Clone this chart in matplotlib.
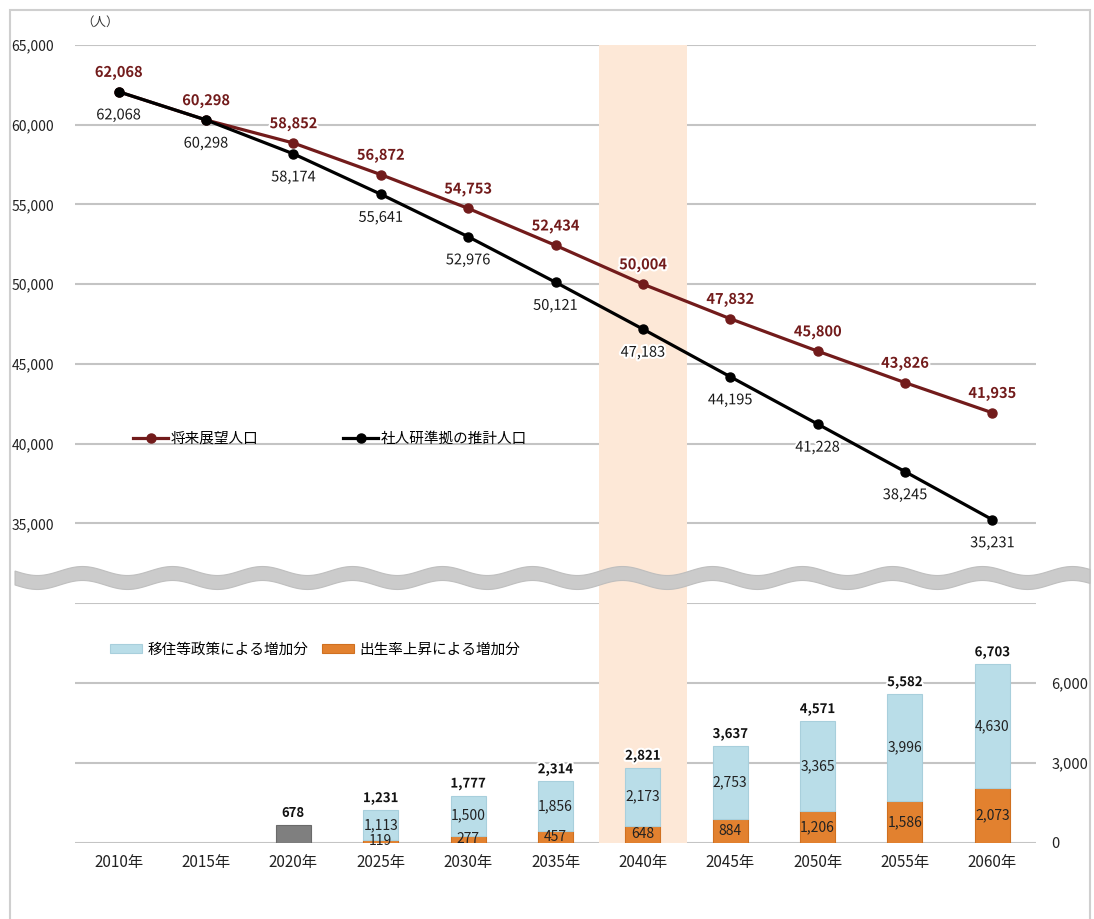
import numpy as np
import matplotlib
matplotlib.use("Agg")
import matplotlib.pyplot as plt
import matplotlib.patheffects as pe
from matplotlib.patches import Rectangle, Polygon

plt.rcParams['font.family'] = ['Noto Sans CJK JP', 'DejaVu Sans']

# データ
nendo = ['2010年', '2015年', '2020年', '2025年', '2030年', '2035年',
         '2040年', '2045年', '2050年', '2055年', '2060年']
tenbou = [62068, 60298, 58852, 56872, 54753, 52434, 50004, 47832, 45800, 43826, 41935]
shajinken = [62068, 60298, 58174, 55641, 52976, 50121, 47183, 44195, 41228, 38245, 35231]

# 2025年以降の内訳
bar_idx = [3, 4, 5, 6, 7, 8, 9, 10]
shussei = [119, 277, 457, 648, 884, 1206, 1586, 2073]
ijuu = [1113, 1500, 1856, 2173, 2753, 3365, 3996, 4630]
goukei = [1231, 1777, 2314, 2821, 3637, 4571, 5582, 6703]
zou_2020 = 678

W, H = 1094, 919
fig = plt.figure(figsize=(W / 100, H / 100), dpi=100)


def fx(px):
    return px / W


def fy(py):
    return 1 - py / H


MAROON = '#721b1b'
GRID = '#c4c4c4'
BAND = '#fde8d7'
glow = [pe.withStroke(linewidth=3, foreground='white')]

# 外枠
fig.add_artist(Rectangle((fx(10), fy(940)), fx(1080), 930 / H, transform=fig.transFigure,
                         fill=False, edgecolor='#cfcfcf', linewidth=1.5, zorder=0))

ax1 = fig.add_axes([fx(75), fy(560), fx(961), (560 - 45) / H])
ax2 = fig.add_axes([fx(75), fy(843), fx(961), (843 - 603) / H])

x = np.arange(len(nendo))
for ax in (ax1, ax2):
    ax.set_xlim(-0.5, len(nendo) - 0.5)
    ax.set_facecolor('none')
    for s in ax.spines.values():
        s.set_visible(False)
    ax.set_axisbelow(True)
    ax.grid(axis='y', color=GRID, linewidth=1.5)
    ax.tick_params(length=0)
    ax.axvspan(5.5, 6.5, color=BAND, zorder=1, linewidth=0)

# 上段：人口推移
ax1.set_ylim(32700, 65000)
ax1.set_yticks([35000, 40000, 45000, 50000, 55000, 60000, 65000])
ax1.set_yticklabels([f'{v:,}' for v in ax1.get_yticks()], fontsize=10, color='#222222')
ax1.tick_params(axis='y', pad=15)
ax1.set_xticks([])

ax1.plot(x, tenbou, color=MAROON, linewidth=2.3, marker='o', markersize=6.5,
         zorder=3, label='将来展望人口')
ax1.plot(x, shajinken, color='black', linewidth=2.3, marker='o', markersize=6.5,
         zorder=4, label='社人研準拠の推計人口')

for i, v in enumerate(tenbou):
    ax1.annotate(f'{v:,}', (x[i], v), xytext=(0, 14), textcoords='offset points',
                 ha='center', va='center', fontsize=10.5, fontweight='bold', color=MAROON,
                 path_effects=glow, zorder=5)
for i, v in enumerate(shajinken):
    ax1.annotate(f'{v:,}', (x[i], v), xytext=(0, -17), textcoords='offset points',
                 ha='center', va='center', fontsize=10.5, color='#1a1a1a',
                 path_effects=glow, zorder=5)

ax1.legend(loc='lower left', bbox_to_anchor=((133 - 75) / 961, (560 - 446) / 515),
           ncol=2, frameon=False, fontsize=10.5, handlelength=2.4, handletextpad=0.2,
           columnspacing=5.8, borderaxespad=0, borderpad=0)

fig.text(fx(100), fy(22), '（人）', fontsize=9, ha='center', va='center', color='#333333')

# 下段：増加分
ax2.set_ylim(0, 9000)
ax2.set_yticks([0, 3000, 6000, 9000])
ax2.yaxis.tick_right()
ax2.set_yticklabels(['0', '3,000', '6,000', ''], fontsize=10.5, color='#222222')
ax2.tick_params(axis='y', pad=11)
ax2.set_xticks(x)
ax2.set_xticklabels(nendo, fontsize=11, color='#222222')
ax2.tick_params(axis='x', pad=8)

bw = 0.4
ax2.bar(2, zou_2020, width=bw, color='#7f7f7f', edgecolor='#6a6a6a', linewidth=0.8, zorder=2)
ax2.text(2, zou_2020 + 450, f'{zou_2020:,}', ha='center', va='center', fontsize=9.5,
         fontweight='bold', color='#111111', zorder=5)

ax2.bar(bar_idx, shussei, width=bw, color='#e2812f', edgecolor='#d07020', linewidth=0.8,
        zorder=2, label='出生率上昇による増加分')
ax2.bar(bar_idx, ijuu, width=bw, bottom=shussei, color='#b9dde8', edgecolor='#a8cfdc',
        linewidth=0.8, zorder=2, label='移住等政策による増加分')

for k, i in enumerate(bar_idx):
    ax2.text(i, shussei[k] / 2, f'{shussei[k]:,}', ha='center', va='center', fontsize=10,
             color='#222222', zorder=5)
    ax2.text(i, shussei[k] + ijuu[k] / 2, f'{ijuu[k]:,}', ha='center', va='center',
             fontsize=10, color='#222222', zorder=5)
    ax2.text(i, shussei[k] + ijuu[k] + 450, f'{goukei[k]:,}', ha='center', va='center',
             fontsize=9.5, fontweight='bold', color='#111111', path_effects=glow, zorder=5)

h, l = ax2.get_legend_handles_labels()
ax2.legend(h[::-1], l[::-1], loc='center left',
           bbox_to_anchor=((110 - 75) / 961, 1 - (650 - 603) / 240),
           ncol=2, frameon=False, fontsize=10.5, handlelength=2.2, handleheight=0.6,
           handletextpad=0.4, columnspacing=0.9, borderaxespad=0, borderpad=0)

# 2040年の帯（上下の軸の間）
x0 = ax1.transData.transform((5.5, 0))[0] / W
x1 = ax1.transData.transform((6.5, 0))[0] / W
fig.add_artist(Rectangle((x0, fy(603)), x1 - x0, (603 - 560) / H, transform=fig.transFigure,
                         color=BAND, linewidth=0, zorder=0.5))

# 波線（省略記号）
xs = np.linspace(15, 1090, 600)
cy = 578 + 4.5 * np.sin(2 * np.pi * (xs - 15) / 90.0)
top = cy - 7
bot = cy + 7
pts = np.column_stack([np.concatenate([xs, xs[::-1]]) / W,
                       1 - np.concatenate([top, bot[::-1]]) / H])
fig.add_artist(Polygon(pts, closed=True, transform=fig.transFigure,
                       facecolor='#c9c9c9', edgecolor='#bdbdbd', linewidth=0.8,
                       alpha=0.95, zorder=10))

fig.savefig('out.png', dpi=100)
